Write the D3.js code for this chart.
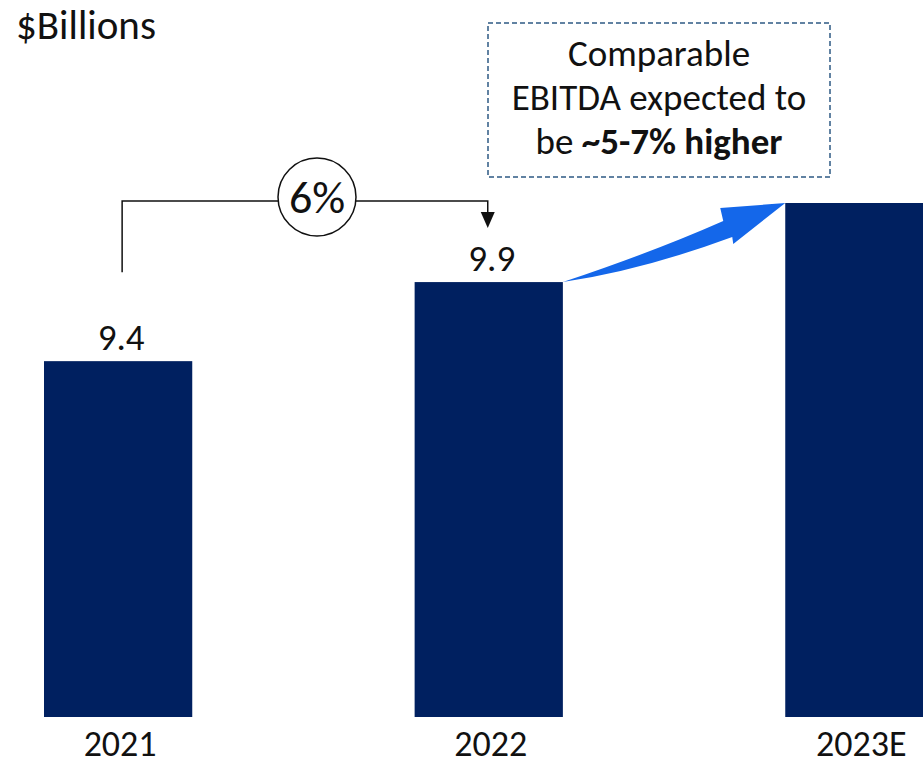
<!DOCTYPE html>
<html>
<head>
<meta charset="utf-8">
<script src="https://cdn.jsdelivr.net/npm/d3@7"></script>
<style>
  html, body { margin: 0; padding: 0; background: #fff; }
  svg { display: block; font-family: Calibri, Carlito, Lato, "Open Sans", sans-serif; }
</style>
</head>
<body>
<svg id="chart" width="923" height="766"></svg>
<script>
// Comparable EBITDA, $ billions
const years = ["2021", "2022", "2023E"];
const values = [9.4, 9.9, 10.4];
const valueLabels = ["9.4", "9.9", ""];
const growthLabel = "6%";
const unitLabel = "$Billions";
const calloutLines = ["Comparable", "EBITDA expected to"];
const calloutLast = ["be ", "~5-7% higher"];

const svg = d3.select("#chart");
const navy = "#002060";

const x = d3.scaleBand().domain(years).range([44, 933.5]).paddingInner(0.6).paddingOuter(0);
const y = d3.scaleLinear().domain([7.15, 10.4]).range([717, 203]);

// bars
svg.selectAll("rect.bar").data(years).join("rect")
  .attr("class", "bar")
  .attr("x", d => x(d))
  .attr("y", (d, i) => y(values[i]))
  .attr("width", x.bandwidth())
  .attr("height", (d, i) => y.range()[0] - y(values[i]))
  .attr("fill", navy);

// value labels
svg.selectAll("text.val").data(years).join("text")
  .attr("class", "val")
  .attr("x", d => x(d) + x.bandwidth() / 2 + 3)
  .attr("y", (d, i) => y(values[i]) - 11)
  .attr("text-anchor", "middle")
  .attr("font-size", 37)
  .attr("fill", "#111")
  .text((d, i) => valueLabels[i]);

// category axis labels
svg.selectAll("text.cat").data(years).join("text")
  .attr("class", "cat")
  .attr("x", d => x(d) + x.bandwidth() / 2 + 2)
  .attr("y", 756)
  .attr("text-anchor", "middle")
  .attr("font-size", 36)
  .attr("fill", "#111")
  .text(d => d);

// unit label
svg.append("text")
  .attr("x", 16).attr("y", 39)
  .attr("font-size", 41).attr("fill", "#111")
  .text(unitLabel);

// growth bracket 2021 -> 2022
const cx0 = x(years[0]) + x.bandwidth() / 2 + 4;
const cx1 = x(years[1]) + x.bandwidth() / 2 - 1;
const by = 201;
svg.append("path")
  .attr("d", `M${cx0},${y(values[0]) - 89} V${by} H${cx1} V${by + 12}`)
  .attr("fill", "none").attr("stroke", "#111").attr("stroke-width", 1.5);
svg.append("path")
  .attr("d", `M${cx1 - 7},${by + 11} L${cx1 + 7},${by + 11} L${cx1},${by + 27} Z`)
  .attr("fill", "#111");
const gx = 317, gy = 197;
svg.append("circle").attr("cx", gx).attr("cy", gy).attr("r", 39)
  .attr("fill", "#fff").attr("stroke", "#111").attr("stroke-width", 1.5);
svg.append("text").attr("x", gx).attr("y", gy + 16)
  .attr("text-anchor", "middle").attr("font-size", 46).attr("fill", "#111")
  .text(growthLabel);

// curved arrow 2022 -> 2023E
const ax0 = x(years[1]) + x.bandwidth(), ay0 = y(values[1]);
const ax1 = x(years[2]), ay1 = y(values[2]);
const arrow = `M${ax0},${ay0}
  Q${ax0 + 90},${ay0 - 30} ${ax1 - 62},${ay1 + 18}
  L${ax1 - 65},${ay1 + 5}
  L${ax1},${ay1}
  L${ax1 - 52},${ay1 + 41}
  L${ax1 - 53},${ay1 + 34}
  Q${ax0 + 80},${ay0 - 12} ${ax0},${ay0} Z`;
svg.append("path").attr("d", arrow).attr("fill", "#1467ea");

// callout box
const bx = 488, byy = 23, bw = 342, bh = 154;
svg.append("rect").attr("x", bx).attr("y", byy).attr("width", bw).attr("height", bh)
  .attr("fill", "#fff").attr("stroke", "#2e5a84").attr("stroke-width", 1.5)
  .attr("stroke-dasharray", "5,3");
const tcx = bx + bw / 2;
calloutLines.forEach((t, i) => {
  svg.append("text").attr("x", tcx).attr("y", 66 + i * 44)
    .attr("text-anchor", "middle").attr("font-size", 37).attr("fill", "#111").text(t);
});
const last = svg.append("text").attr("x", tcx).attr("y", 154)
  .attr("text-anchor", "middle").attr("font-size", 37).attr("fill", "#111");
last.append("tspan").text(calloutLast[0]);
last.append("tspan").attr("font-weight", "bold").text(calloutLast[1]);
</script>
</body>
</html>
